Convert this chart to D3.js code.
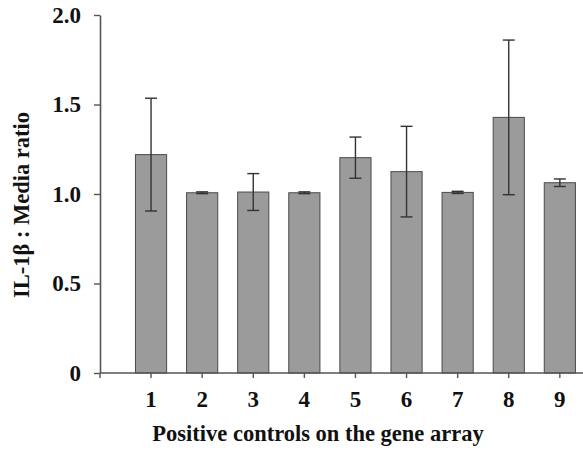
<!DOCTYPE html>
<html>
<head>
<meta charset="utf-8">
<script src="https://cdn.jsdelivr.net/npm/d3@7"></script>
<style>
  html, body { margin: 0; padding: 0; background: #fff; }
  svg { display: block; }
  text { font-family: "Liberation Serif", "Times New Roman", serif; font-weight: bold; fill: #111; }
</style>
</head>
<body>
<svg id="chart" width="583" height="450"></svg>
<script>
const categories = ["1", "2", "3", "4", "5", "6", "7", "8", "9"];
const means = [1.22, 1.007, 1.011, 1.007, 1.203, 1.125, 1.009, 1.428, 1.063];
const errors = [0.315, 0.005, 0.103, 0.005, 0.115, 0.253, 0.006, 0.432, 0.021];
const yTicks = [0, 0.5, 1.0, 1.5, 2.0];
const yTickLabels = ["0", "0.5", "1.0", "1.5", "2.0"];
const xTitle = "Positive controls on the gene array";
const yTitle = "IL-1β : Media ratio";

const svg = d3.select("#chart");
const axisLeftX = 100, axisRightX = 583;
const y = d3.scaleLinear().domain([0, 2]).range([373, 15]);
const x = d3.scaleBand().domain(categories)
  .range([125.5, 585.4]).paddingInner(0.39).paddingOuter(0.195);

// Bars
svg.append("g").selectAll("rect").data(categories).join("rect")
  .attr("x", d => x(d))
  .attr("width", x.bandwidth())
  .attr("y", (d, i) => y(means[i]))
  .attr("height", (d, i) => y(0) - y(means[i]))
  .attr("fill", "#9b9b9b")
  .attr("stroke", "#4a4a4a")
  .attr("stroke-width", 1);

// Error bars
const eb = svg.append("g").attr("stroke", "#333").attr("stroke-width", 1.4);
categories.forEach((c, i) => {
  const cx = x(c) + x.bandwidth() / 2;
  const hi = y(means[i] + errors[i]), lo = y(means[i] - errors[i]);
  eb.append("line").attr("x1", cx).attr("x2", cx).attr("y1", hi).attr("y2", lo);
  eb.append("line").attr("x1", cx - 6).attr("x2", cx + 6).attr("y1", hi).attr("y2", hi);
  eb.append("line").attr("x1", cx - 6).attr("x2", cx + 6).attr("y1", lo).attr("y2", lo);
});

// Y axis
const yAxis = d3.axisLeft(y).tickValues(yTicks)
  .tickFormat((d, i) => yTickLabels[i]).tickSize(6).tickSizeOuter(0).tickPadding(13);
const gy = svg.append("g").attr("transform", `translate(${axisLeftX},0)`).call(yAxis);
gy.select(".domain").attr("stroke", "#555").attr("stroke-width", 1.6);
gy.selectAll(".tick line").attr("stroke", "#555").attr("stroke-width", 1.4);
gy.selectAll(".tick text").style("font-size", "23px").attr("fill", "#111")
  .style("font-family", "'Liberation Serif', serif").style("font-weight", "bold");

// X axis
const xAxis = d3.axisBottom(x).tickSize(5).tickSizeOuter(0).tickPadding(13);
const gx = svg.append("g").attr("transform", `translate(0,${y(0)})`).call(xAxis);
gx.select(".domain").remove();
gx.append("line").attr("x1", axisLeftX).attr("x2", axisRightX).attr("y1", 0).attr("y2", 0)
  .attr("stroke", "#555").attr("stroke-width", 1.6);
gx.append("line").attr("x1", axisLeftX).attr("x2", axisLeftX).attr("y1", 0).attr("y2", 5)
  .attr("stroke", "#555").attr("stroke-width", 1.4);
gx.selectAll(".tick line").attr("stroke", "#555").attr("stroke-width", 1.4);
gx.selectAll(".tick text").style("font-size", "23px").attr("fill", "#111")
  .style("font-family", "'Liberation Serif', serif").style("font-weight", "bold");

// Titles
svg.append("text").attr("x", 318).attr("y", 441).attr("text-anchor", "middle")
  .style("font-size", "22.5px").text(xTitle);
svg.append("text").attr("transform", "translate(29,205) rotate(-90)")
  .attr("text-anchor", "middle").style("font-size", "22.5px").text(yTitle);
</script>
</body>
</html>
